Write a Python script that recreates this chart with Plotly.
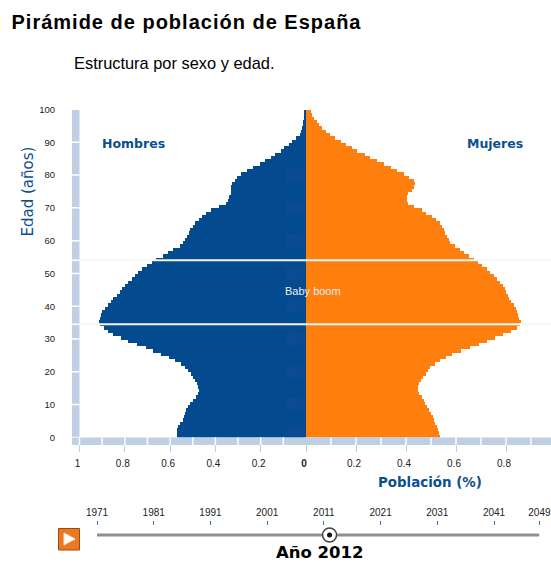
import plotly.graph_objects as go

ages = list(range(100))
hombres = [.568,.570,.571,.565,.556,.541,.538,.535,.530,.520,.510,.497,.486,.478,.471,.476,.481,.488,.497,.508,
           .520,.533,.553,.580,.603,.640,.675,.705,.745,.785,.815,.850,.875,.893,.908,.912,.910,.906,.900,.888,
           .875,.863,.850,.835,.822,.812,.800,.785,.770,.755,.740,.722,.703,.682,.660,.630,.608,.585,.555,.543,
           .535,.527,.518,.510,.500,.490,.473,.458,.440,.418,.385,.353,.345,.338,.333,.332,.330,.328,.315,.305,
           .285,.262,.232,.203,.180,.155,.135,.112,.097,.075,.060,.045,.028,.022,.018,.014,.012,.010,.008,.006]
mujeres = [.536,.533,.528,.523,.517,.512,.509,.499,.491,.484,.476,.470,.463,.452,.447,.449,.453,.460,.468,.478,
           .487,.497,.515,.536,.558,.583,.620,.655,.690,.723,.757,.789,.820,.845,.857,.859,.853,.848,.845,.838,
           .830,.820,.812,.806,.800,.795,.789,.776,.763,.750,.736,.722,.705,.689,.670,.650,.633,.616,.595,.577,
           .570,.563,.556,.551,.545,.536,.520,.503,.480,.463,.430,.408,.405,.403,.408,.423,.430,.436,.430,.412,
           .392,.365,.340,.310,.285,.255,.235,.205,.185,.160,.140,.115,.095,.078,.065,.053,.042,.033,.025,.018]
x_ticks = [0, 0.2, 0.4, 0.6, 0.8, 1]
x_labels_h = ["<b>0</b>", "0.2", "0.4", "0.6", "0.8", "1"]
x_labels_m = ["", "0.2", "0.4", "0.6", "0.8", "1"]
y_ticks = list(range(0, 101, 10))
years = [1971, 1981, 1991, 2001, 2011, 2021, 2031, 2041, 2049]
current_year = 2012
boom_ages = [34.5, 54]

W, H = 551, 563
BLUE, ORANGE, STRIP, TXT = "#034a8f", "#ff7f0e", "#c0d0e4", "#0b4f8f"
px = lambda v: v / W
py = lambda v: 1 - v / H

fig = go.Figure()
fig.add_bar(y=ages, x=hombres, orientation="h", width=1, offset=0, marker=dict(color=BLUE, line_width=0),
            xaxis="x", yaxis="y", showlegend=False)
fig.add_bar(y=ages, x=mujeres, orientation="h", width=1, offset=0, marker=dict(color=ORANGE, line_width=0),
            xaxis="x2", yaxis="y", showlegend=False)
fig.add_scatter(x=[years[0], years[-1]], y=[0.5, 0.5], mode="lines", line=dict(color="#8f8f8f", width=3),
                xaxis="x3", yaxis="y3", showlegend=False, hoverinfo="skip")
fig.add_scatter(x=[current_year], y=[0.5], mode="markers",
                marker=dict(size=14, color="white", line=dict(color="#444444", width=1.5)),
                xaxis="x3", yaxis="y3", showlegend=False, hoverinfo="skip")
fig.add_scatter(x=[current_year], y=[0.5], mode="markers", marker=dict(size=5, color="#111111"),
                xaxis="x3", yaxis="y3", showlegend=False, hoverinfo="skip")

shapes = [
    dict(type="rect", xref="paper", yref="paper", x0=px(72), x1=px(79.5), y0=py(437.4), y1=py(110),
         fillcolor=STRIP, line_width=0, layer="above"),
    dict(type="rect", xref="paper", yref="paper", x0=px(72), x1=px(551), y0=py(445), y1=py(437.4),
         fillcolor=STRIP, line_width=0, layer="above"),
]
for i in range(1, 11):
    v = i / 10
    shapes.append(dict(type="line", xref="x", yref="paper", x0=v, x1=v, y0=py(445), y1=py(437.4),
                       line=dict(color="white", width=1.5), layer="above"))
    if v < 0.98:
        shapes.append(dict(type="line", xref="x2", yref="paper", x0=v, x1=v, y0=py(445), y1=py(437.4),
                           line=dict(color="white", width=1.5), layer="above"))
for a in y_ticks[:-1]:
    shapes.append(dict(type="line", xref="paper", yref="y", x0=px(72), x1=px(79.5), y0=a, y1=a,
                       line=dict(color="white", width=1.5), layer="above"))
for a in [1, 10, 20, 30, 40, 50, 60, 70, 80]:
    shapes.append(dict(type="rect", xref="x", yref="y", x0=0.09, x1=0.01, y0=a - 2, y1=a + 2,
                       fillcolor="rgba(30,80,165,0.25)", line_width=0, layer="above"))
for a in boom_ages:
    shapes.append(dict(type="line", xref="paper", yref="y", x0=px(72), x1=1, y0=a, y1=a,
                       line=dict(color="#f5f5f5", width=2), layer="above"))
shapes.append(dict(type="rect", xref="paper", yref="paper", x0=px(58.5), x1=px(79.5), y0=py(550), y1=py(528.5),
                   fillcolor="#ea7a22", line=dict(color="#9c4a14", width=1)))
shapes.append(dict(type="path", xref="paper", yref="paper",
                   path=f"M {px(64)} {py(533)} L {px(75)} {py(539)} L {px(64)} {py(545)} Z",
                   fillcolor="#ffffff", line=dict(color="#fbe3c8", width=1)))


def note(text, x, y, size, color="#000000", family="Liberation Sans", xanchor="left", angle=0):
    return dict(text=text, xref="paper", yref="paper", x=px(x), y=py(y), showarrow=False, xanchor=xanchor,
                yanchor="middle", textangle=angle, font=dict(size=size, color=color, family=family))


annotations = [
    note("<b>Pirámide de población de España</b>", 25, 22, 20),
    note("Estructura por sexo y edad.", 72, 63, 16.4),
    note("<b>Hombres</b>", 100, 143, 12.5, TXT, "DejaVu Sans"),
    note("<b>Mujeres</b>", 465, 143, 12.5, TXT, "DejaVu Sans"),
    note("Edad (años)", 27, 191.5, 15, TXT, "DejaVu Sans", "center", -90),
    note("<b>Población (%)</b>", 376, 482, 13.4, TXT, "DejaVu Sans"),
    note("Baby boom", 313, 291, 11, "#e8eef6", "Liberation Sans", "center"),
    note(f"<b>Año {current_year}</b>", 319.5, 552, 16.5, "#000000", "DejaVu Sans", "center"),
]

tick_font = dict(size=10, color="#222222", family="Liberation Sans")
common = dict(showgrid=False, zeroline=False, showline=False, automargin=False, fixedrange=True)
fig.update_layout(
    width=W, height=H, autosize=False, margin=dict(l=0, r=0, t=0, b=0),
    paper_bgcolor="white", plot_bgcolor="white", barmode="overlay", bargap=0,
    shapes=shapes, annotations=annotations, showlegend=False,
    xaxis=dict(domain=[px(72), px(306)], range=[1.033, 0], anchor="y", tickvals=x_ticks, ticktext=x_labels_h,
               ticks="outside", ticklen=14, tickcolor=STRIP, tickwidth=1, tickfont=tick_font,
               ticklabelshift=2, ticklabelstandoff=3, **common),
    xaxis2=dict(domain=[px(306), 1], range=[0, 0.98], anchor="y", tickvals=x_ticks[:-1], ticktext=x_labels_m[:-1],
                ticks="outside", ticklen=14, tickcolor=STRIP, tickwidth=1, tickfont=tick_font,
                ticklabelshift=-2, ticklabelstandoff=3, **common),
    yaxis=dict(domain=[py(437.4), py(109.5)], range=[0, 100], anchor="x", tickvals=y_ticks, ticks="",
               tickfont=dict(size=9.5, color="#222222", family="Liberation Sans"), ticklabelstandoff=16, **common),
    xaxis3=dict(domain=[px(97), px(539.4)], range=[years[0], years[-1]], anchor="y3", side="top", tickvals=years,
                ticks="outside", ticklen=4, tickcolor="#3a72b0", tickwidth=1, tickfont=tick_font, tickformat="d",
                ticklabelstandoff=1, **common),
    yaxis3=dict(domain=[py(544), py(526)], range=[0, 1], anchor="x3", visible=False, fixedrange=True, automargin=False),
)
fig.write_html("out.html", config={"displayModeBar": False},
               post_script="document.body.style.margin='0';document.documentElement.style.overflow='hidden';"
                           "var t=document.querySelector('.annotation-text');if(t){t.style.letterSpacing='1px';}")
